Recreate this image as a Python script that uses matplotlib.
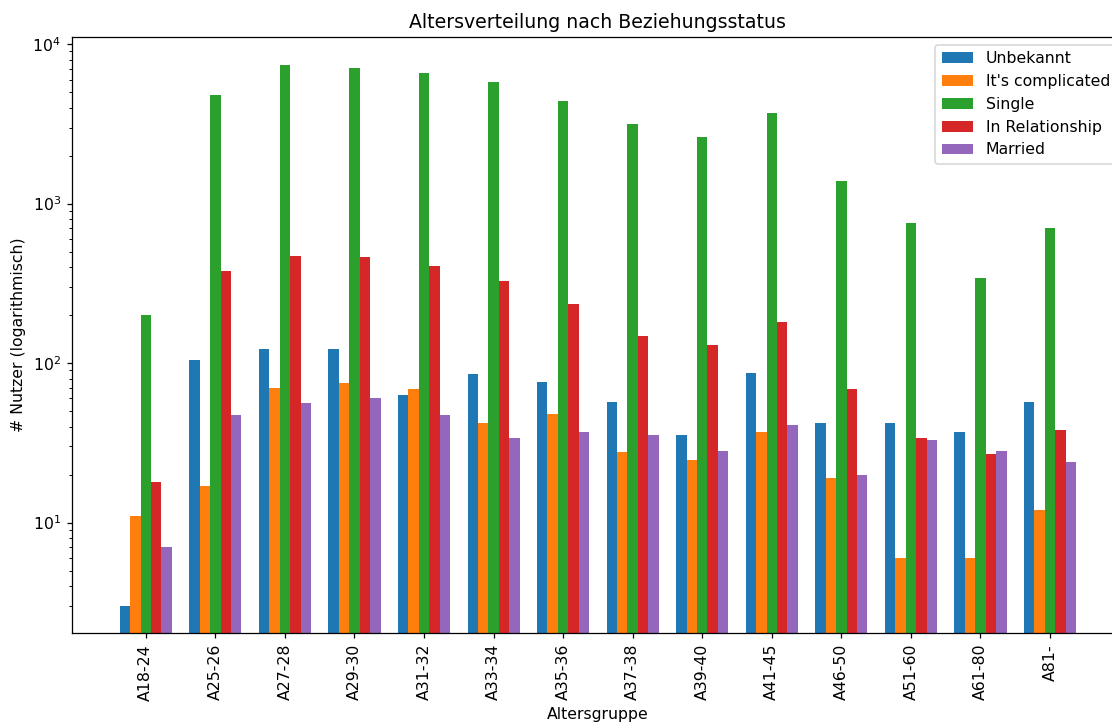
import numpy as np
import matplotlib
matplotlib.use("Agg")
import matplotlib.pyplot as plt

groups = ["A18-24", "A25-26", "A27-28", "A29-30", "A31-32", "A33-34", "A35-36",
          "A37-38", "A39-40", "A41-45", "A46-50", "A51-60", "A61-80", "A81-"]

status = ["Unbekannt", "It's complicated", "Single", "In Relationship", "Married"]

unbekannt     = [3, 104, 123, 122, 63, 85, 76, 57, 35.5, 87, 42, 42, 37, 57]
complicated   = [11, 17, 70, 75, 69, 42, 48, 27.5, 24.5, 37, 19, 6, 6, 12]
single        = [200, 4820, 7420, 7130, 6620, 5820, 4420, 3180, 2600, 3720, 1390, 760, 344, 708]
relationship  = [18, 380, 472, 465, 408, 329, 236, 147, 129, 182, 69, 34, 27, 38]
married       = [7, 47, 56, 60, 47, 34, 37, 35.5, 28, 41, 20, 33, 28, 24]

series = [unbekannt, complicated, single, relationship, married]
colors = ["#1f77b4", "#ff7f0e", "#2ca02c", "#d62728", "#9467bd"]

dpi = 113
fig = plt.figure(figsize=(1112 / dpi, 725 / dpi), dpi=dpi)
ax = fig.add_axes([0.0647, 0.127, 0.946, 0.822])

x = np.arange(len(groups))
width = 0.15
for k, (vals, name, col) in enumerate(zip(series, status, colors)):
    ax.bar(x + (k - 2) * width, vals, width, label=name, color=col)

ax.set_yscale("log")
ax.set_ylim(2.03, 11100)
ax.set_xticks(x)
ax.set_xticklabels(groups, rotation=90)
ax.set_title("Altersverteilung nach Beziehungsstatus")
ax.set_ylabel("# Nutzer (logarithmisch)")
ax.set_xlabel("Altersgruppe")
ax.legend(loc="upper right")

fig.savefig("out.png", dpi=dpi)
